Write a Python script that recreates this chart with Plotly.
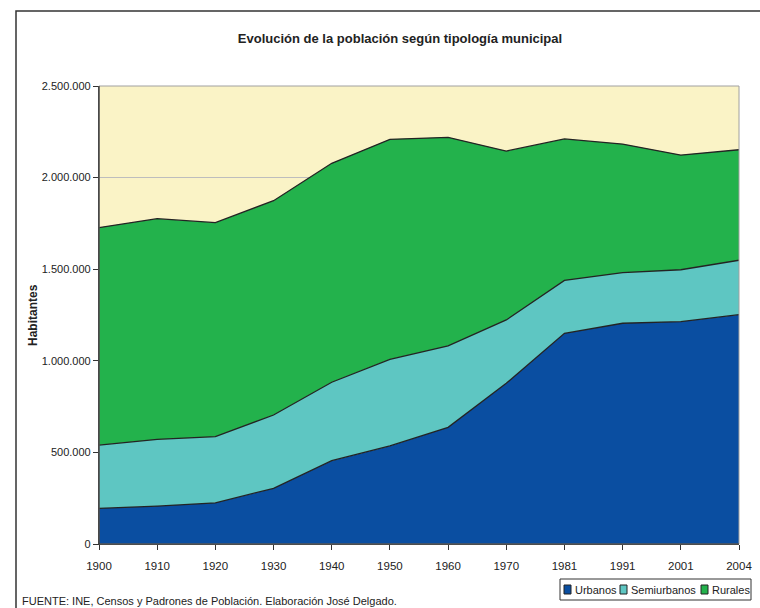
import plotly.graph_objects as go

years = ["1900", "1910", "1920", "1930", "1940", "1950", "1960", "1970", "1981", "1991", "2001", "2004"]
urbanos = [195000, 207000, 225000, 304000, 455000, 535000, 637000, 877000, 1150000, 1205000, 1214000, 1252000]
semiurbanos = [345000, 364000, 361000, 400000, 428000, 473000, 444000, 346000, 289000, 276000, 283000, 297000]
rurales = [1187000, 1205000, 1168000, 1170000, 1195000, 1201000, 1139000, 922000, 772000, 702000, 626000, 603000]
y_ticks = [0, 500000, 1000000, 1500000, 2000000, 2500000]

FONT = "Liberation Sans, Arial, sans-serif"

W, H = 760, 608
L, R, T, B = 99, 21, 86, 64
pw, ph = W - L - R, H - T - B

def px(xp):
    return (xp - L) / pw

def py(yp):
    return (H - B - yp) / ph

series = [
    ("Urbanos", urbanos, "#0A4EA1"),
    ("Semiurbanos", semiurbanos, "#5EC6C2"),
    ("Rurales", rurales, "#23B24C"),
]

fig = go.Figure()
for name, vals, col in series:
    fig.add_trace(go.Scatter(
        x=years, y=vals, name=name, mode="lines", stackgroup="one",
        line=dict(color="#232323", width=1.3), fillcolor=col, showlegend=False,
    ))

fig.update_layout(
    width=W, height=H,
    margin=dict(l=L, r=R, t=T, b=B, autoexpand=False),
    paper_bgcolor="white",
    plot_bgcolor="#FAF3C6",
    separators=",.",
    font=dict(family=FONT, size=11, color="#222222"),
    title=dict(
        text="<b>Evolución de la población según tipología municipal</b>",
        x=400 / W, xanchor="center", y=1 - 38 / H, yanchor="middle",
        font=dict(family=FONT, size=13, color="#222222"),
    ),
    showlegend=False,
    xaxis=dict(
        type="category", range=[0, len(years) - 1],
        showgrid=False, showline=True, linecolor="#333333", linewidth=1.2,
        ticks="outside", ticklen=5, tickcolor="#333333", ticklabelstandoff=6,
        tickfont=dict(family=FONT, size=11.5, color="#222222"),
        zeroline=False,
    ),
    yaxis=dict(
        range=[0, 2500000], tickvals=y_ticks, tickformat=",d",
        showgrid=True, gridcolor="#BDBDBD", gridwidth=1,
        showline=True, linecolor="#333333", linewidth=1.2,
        ticks="outside", ticklen=5, tickcolor="#333333",
        tickfont=dict(family=FONT, size=11, color="#222222"),
        zeroline=False,
    ),
)

# plot area border (top/right gray)
fig.add_shape(type="rect", xref="paper", yref="paper", x0=0, y0=0, x1=1, y1=1,
              line=dict(color="#A0A0A0", width=1), layer="above")
# redraw left/bottom axis lines above the border
fig.add_shape(type="line", xref="paper", yref="paper", x0=0, y0=0, x1=0, y1=1,
              line=dict(color="#333333", width=1.2), layer="above")
fig.add_shape(type="line", xref="paper", yref="paper", x0=0, y0=0, x1=1, y1=0,
              line=dict(color="#333333", width=1.2), layer="above")
# outer chart frame
fig.add_shape(type="rect", xref="paper", yref="paper",
              x0=px(16), y0=py(620), x1=px(785), y1=py(11),
              line=dict(color="#333333", width=1.5), layer="above")

# custom legend box
fig.add_shape(type="rect", xref="paper", yref="paper",
              x0=px(560), y0=py(600), x1=px(751), y1=py(579),
              line=dict(color="#333333", width=1), fillcolor="white", layer="above")
legend_items = [("Urbanos", 564, "#0A4EA1"), ("Semiurbanos", 620, "#5EC6C2"), ("Rurales", 701, "#23B24C")]
for name, x0, col in legend_items:
    fig.add_shape(type="rect", xref="paper", yref="paper",
                  x0=px(x0), y0=py(594), x1=px(x0 + 7), y1=py(585),
                  line=dict(color="#222222", width=1), fillcolor=col, layer="above")
    fig.add_annotation(
        text=name, xref="paper", yref="paper", x=px(x0 + 9), y=py(589.5),
        xanchor="left", yanchor="middle", showarrow=False,
        font=dict(family=FONT, size=11, color="#222222"),
    )

fig.add_annotation(
    text="<b>Habitantes</b>", textangle=-90, xref="paper", yref="paper",
    x=px(33), y=0.5, xanchor="center", yanchor="middle", showarrow=False,
    font=dict(family=FONT, size=12, color="#222222"),
)
fig.add_annotation(
    text="FUENTE: INE, Censos y Padrones de Población. Elaboración José Delgado.",
    xref="paper", yref="paper", x=px(20), y=py(601), xanchor="left", yanchor="middle",
    showarrow=False, font=dict(family=FONT, size=11, color="#222222"),
)

fig.write_html("out.html")
